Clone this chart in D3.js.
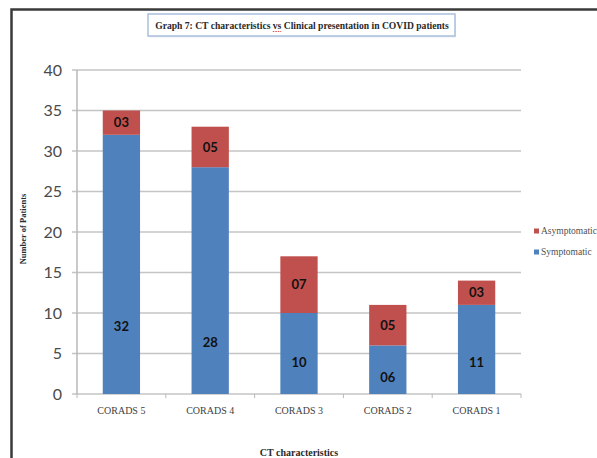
<!DOCTYPE html>
<html>
<head>
<meta charset="utf-8">
<script src="https://cdn.jsdelivr.net/npm/d3@7"></script>
<style>
  html, body { margin: 0; padding: 0; background: #fff; }
  svg { display: block; }
</style>
</head>
<body>
<svg id="chart" width="597" height="458"></svg>
<script>
// CT score categories and patient counts per clinical presentation
const categories = ["CORADS 5", "CORADS 4", "CORADS 3", "CORADS 2", "CORADS 1"];
const symptomatic = [32, 28, 10, 6, 11];
const asymptomatic = [3, 5, 7, 5, 3];
const symptomaticLabels = ["32", "28", "10", "06", "11"];
const asymptomaticLabels = ["03", "05", "07", "05", "03"];
const yTicks = [0, 5, 10, 15, 20, 25, 30, 35, 40];
const seriesNames = ["Asymptomatic", "Symptomatic"];

// height (in patients) at which each symptomatic count is written
const symptomaticLabelAt = [8.4, 6.4, 3.95, 2.1, 3.95];

const colors = { Symptomatic: "#4f81bd", Asymptomatic: "#c0504d" };

const svg = d3.select("#chart");
const plot = { left: 77, right: 521, top: 70, bottom: 394 };

const x = d3.scaleBand().domain(categories).range([plot.left, plot.right]).paddingInner(0.58).paddingOuter(0.29);
const y = d3.scaleLinear().domain([0, 40]).range([plot.bottom, plot.top]);

// outer frame (left and top edges)
svg.append("path")
  .attr("d", `M11.5,458 L11.5,9.5 L597,9.5`)
  .attr("fill", "none").attr("stroke", "#3a3a3a").attr("stroke-width", 2.5);

// title box
svg.append("rect").attr("x", 149).attr("y", 15.5).attr("width", 307).attr("height", 22)
  .attr("fill", "#e8eef6").attr("stroke", "none");
svg.append("rect").attr("x", 148).attr("y", 14).attr("width", 307).attr("height", 22)
  .attr("fill", "#fff").attr("stroke", "#a9bfdc").attr("stroke-width", 1.5);
const title = svg.append("text").attr("x", 302).attr("y", 29).attr("text-anchor", "middle")
  .attr("font-family", "Liberation Serif, serif").attr("font-weight", "bold")
  .attr("font-size", 9.6).attr("fill", "#2a2a2a");
title.append("tspan").text("Graph 7: CT characteristics ");
title.append("tspan").text("vs");
title.append("tspan").text(" Clinical presentation in COVID patients");

// spell-check underline beneath "vs"
{
  const t = title.node();
  const start = t.getStartPositionOfChar(28);
  const end = t.getEndPositionOfChar(29);
  svg.append("line").attr("x1", start.x).attr("x2", end.x).attr("y1", 31.5).attr("y2", 31.5)
    .attr("stroke", "#e05050").attr("stroke-width", 1).attr("stroke-dasharray", "1.5,1");
}

// gridlines
svg.append("g").selectAll("line").data(yTicks).join("line")
  .attr("x1", plot.left - 5).attr("x2", plot.right)
  .attr("y1", d => y(d)).attr("y2", d => y(d))
  .attr("stroke", "#c4c4c4").attr("stroke-width", 1.5);

// y axis line
svg.append("line").attr("x1", plot.left).attr("x2", plot.left)
  .attr("y1", plot.top).attr("y2", plot.bottom)
  .attr("stroke", "#b8b8b8").attr("stroke-width", 1.5);

// y tick labels
svg.append("g").selectAll("text").data(yTicks).join("text")
  .attr("x", 62).attr("y", d => y(d)).attr("dy", "0.36em")
  .attr("text-anchor", "end")
  .attr("font-family", "Lato, Open Sans, sans-serif").attr("font-size", 16)
  .attr("fill", "#4a4a4a")
  .text(d => d);

// x axis ticks at category boundaries
const boundaries = d3.range(categories.length + 1).map(i => plot.left + i * (plot.right - plot.left) / categories.length);
svg.append("g").selectAll("line").data(boundaries).join("line")
  .attr("x1", d => d).attr("x2", d => d)
  .attr("y1", plot.bottom).attr("y2", plot.bottom + 4)
  .attr("stroke", "#b8b8b8").attr("stroke-width", 1);

// stacked bars
const rows = categories.map((c, i) => ({ c, s: symptomatic[i], a: asymptomatic[i], i }));
const bars = svg.append("g");
bars.selectAll("rect.sym").data(rows).join("rect").attr("class", "sym")
  .attr("x", d => x(d.c)).attr("width", x.bandwidth())
  .attr("y", d => y(d.s)).attr("height", d => y(0) - y(d.s))
  .attr("fill", colors.Symptomatic);
bars.selectAll("rect.asym").data(rows).join("rect").attr("class", "asym")
  .attr("x", d => x(d.c)).attr("width", x.bandwidth())
  .attr("y", d => y(d.s + d.a)).attr("height", d => y(d.s) - y(d.s + d.a))
  .attr("fill", colors.Asymptomatic);

// value labels
const labelFont = "Lato, Open Sans, sans-serif";
bars.selectAll("text.sym").data(rows).join("text").attr("class", "sym")
  .attr("x", d => x(d.c) + x.bandwidth() / 2)
  .attr("y", d => y(symptomaticLabelAt[d.i])).attr("dy", "0.36em")
  .attr("text-anchor", "middle").attr("font-family", labelFont)
  .attr("font-weight", "bold").attr("font-size", 13).attr("fill", "#111")
  .text(d => symptomaticLabels[d.i]);
bars.selectAll("text.asym").data(rows).join("text").attr("class", "asym")
  .attr("x", d => x(d.c) + x.bandwidth() / 2)
  .attr("y", d => y(d.s + d.a / 2)).attr("dy", "0.36em")
  .attr("text-anchor", "middle").attr("font-family", labelFont)
  .attr("font-weight", "bold").attr("font-size", 13).attr("fill", "#111")
  .text(d => asymptomaticLabels[d.i]);

// category labels
svg.append("g").selectAll("text").data(categories).join("text")
  .attr("x", d => x(d) + x.bandwidth() / 2).attr("y", 414)
  .attr("text-anchor", "middle")
  .attr("font-family", "Liberation Serif, serif").attr("font-size", 10)
  .attr("fill", "#404040")
  .text(d => d);

// axis titles
svg.append("text").attr("x", 299).attr("y", 456).attr("text-anchor", "middle")
  .attr("font-family", "Liberation Serif, serif").attr("font-weight", "bold")
  .attr("font-size", 10).attr("fill", "#2a2a2a")
  .text("CT characteristics");
svg.append("text")
  .attr("transform", "translate(26,229) rotate(-90)")
  .attr("text-anchor", "middle")
  .attr("font-family", "Liberation Serif, serif").attr("font-weight", "bold")
  .attr("font-size", 8.5).attr("fill", "#2a2a2a")
  .text("Number of Patients");

// legend
const legend = svg.append("g").selectAll("g").data(seriesNames).join("g")
  .attr("transform", (d, i) => `translate(534,${231 + i * 21})`);
legend.append("rect").attr("x", 0).attr("y", -2.5).attr("width", 5).attr("height", 5)
  .attr("fill", d => colors[d]);
legend.append("text").attr("x", 7).attr("y", 0).attr("dy", "0.35em")
  .attr("font-family", "Liberation Serif, serif").attr("font-size", 9.5)
  .attr("fill", "#505050")
  .text(d => d);
</script>
</body>
</html>
